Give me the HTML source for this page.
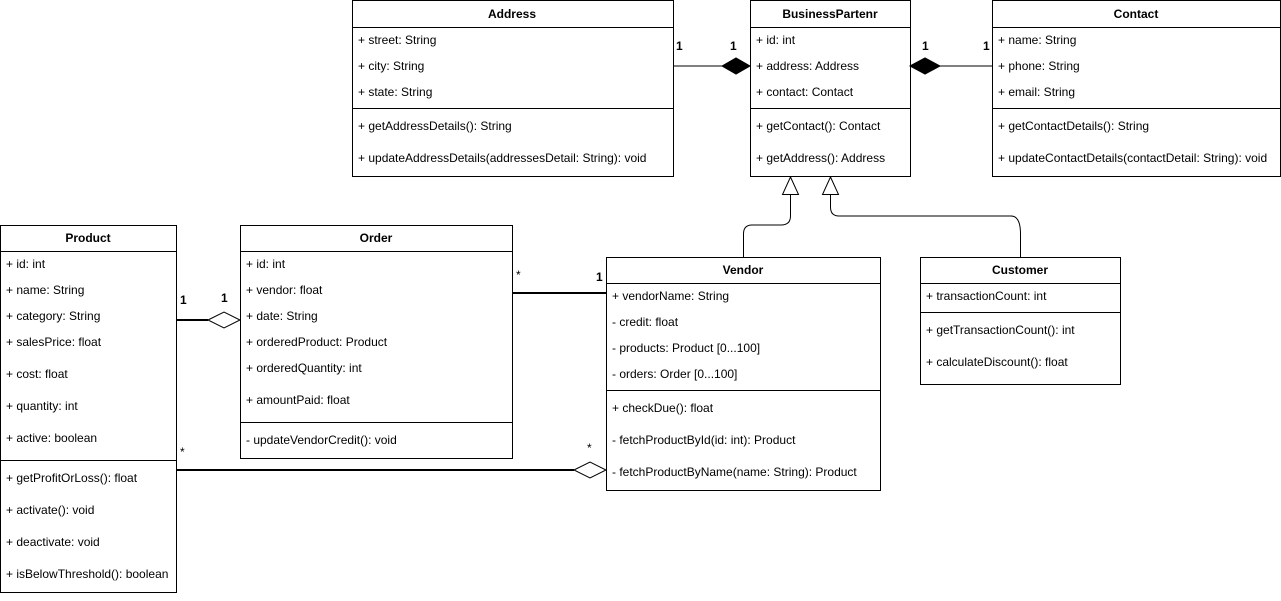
<!DOCTYPE html>
<html><head><meta charset="utf-8"><style>
body{margin:0;background:#fff}
svg text{font-family:"Liberation Sans",Arial,sans-serif;font-size:12px;fill:#000}
.h{font-weight:bold;text-anchor:middle}
.b{font-weight:bold}
</style></head><body>
<svg width="1281" height="596" xmlns="http://www.w3.org/2000/svg">
<g fill="#fff" stroke="#000" stroke-width="1">
<rect x="352.5" y="0.5" width="321" height="176"/>
<line x1="352" y1="27.5" x2="673" y2="27.5"/><line x1="352" y1="108.5" x2="673" y2="108.5"/>
<rect x="750.5" y="0.5" width="160" height="176"/>
<line x1="750" y1="27.5" x2="910" y2="27.5"/><line x1="750" y1="108.5" x2="910" y2="108.5"/>
<rect x="992.5" y="0.5" width="288" height="176"/>
<line x1="992" y1="27.5" x2="1280" y2="27.5"/><line x1="992" y1="108.5" x2="1280" y2="108.5"/>
<rect x="0.5" y="225.5" width="176" height="367"/>
<line x1="0" y1="251.5" x2="177" y2="251.5"/><line x1="0" y1="460.5" x2="177" y2="460.5"/>
<rect x="240.5" y="225.5" width="272" height="233"/>
<line x1="240" y1="251.5" x2="512" y2="251.5"/><line x1="240" y1="422.5" x2="512" y2="422.5"/>
<rect x="606.5" y="257.5" width="274" height="233"/>
<line x1="606" y1="283.5" x2="880" y2="283.5"/><line x1="606" y1="390.5" x2="880" y2="390.5"/>
<rect x="920.5" y="257.5" width="200" height="127"/>
<line x1="920" y1="283.5" x2="1120" y2="283.5"/><line x1="920" y1="312.5" x2="1120" y2="312.5"/>
</g>
<g stroke="#000" fill="none">
<line x1="673" y1="66" x2="722" y2="66"/>
<line x1="940" y1="66" x2="992" y2="66"/>
<path d="M743.5 257V234Q743.5 225 752 225H781Q790.5 225 790.5 216V195"/>
<path d="M1020.5 257V234Q1020.5 216 1011 216H839Q830.5 216 830.5 207V195"/>
<line x1="177" y1="320" x2="208" y2="320" stroke-width="2"/>
<line x1="512" y1="293" x2="606" y2="293" stroke-width="2"/>
<line x1="177" y1="470" x2="574" y2="470" stroke-width="2"/>
</g>
<path d="M722 66L736 58L750 66L736 74Z" fill="#000" stroke="#000"/>
<path d="M910 66L925 58L940 66L925 74Z" fill="#000" stroke="#000"/>
<path d="M790.5 177L798.5 194.5H782.5Z" fill="#fff" stroke="#000"/>
<path d="M830.5 177L838.5 194.5H822.5Z" fill="#fff" stroke="#000"/>
<path d="M208 320L224 312L240 320L224 328Z" fill="#fff" stroke="#000"/>
<path d="M574 470L590 462L606 470L590 478Z" fill="#fff" stroke="#000"/>
<text class="b" x="676" y="50">1</text><text class="b" x="730" y="50">1</text>
<text class="b" x="922" y="50">1</text><text class="b" x="983" y="50">1</text>
<text class="b" x="180" y="304">1</text><text class="b" x="221" y="302">1</text>
<text x="516" y="279">*</text><text class="b" x="596" y="281">1</text>
<text x="180" y="456">*</text><text x="587" y="452">*</text>
<text class="h" x="512" y="18">Address</text>
<text x="358" y="44">+ street: String</text><text x="358" y="70">+ city: String</text><text x="358" y="96">+ state: String</text>
<text x="358" y="130">+ getAddressDetails(): String</text><text x="358" y="162">+ updateAddressDetails(addressesDetail: String): void</text>
<text class="h" x="830" y="18">BusinessPartenr</text>
<text x="756" y="44">+ id: int</text><text x="756" y="70">+ address: Address</text><text x="756" y="96">+ contact: Contact</text>
<text x="756" y="130">+ getContact(): Contact</text><text x="756" y="162">+ getAddress(): Address</text>
<text class="h" x="1136" y="18">Contact</text>
<text x="998" y="44">+ name: String</text><text x="998" y="70">+ phone: String</text><text x="998" y="96">+ email: String</text>
<text x="998" y="130">+ getContactDetails(): String</text><text x="998" y="162">+ updateContactDetails(contactDetail: String): void</text>
<text class="h" x="88" y="242">Product</text>
<text x="6" y="268">+ id: int</text><text x="6" y="294">+ name: String</text><text x="6" y="320">+ category: String</text><text x="6" y="346">+ salesPrice: float</text><text x="6" y="378">+ cost: float</text><text x="6" y="410">+ quantity: int</text><text x="6" y="442">+ active: boolean</text>
<text x="6" y="482">+ getProfitOrLoss(): float</text><text x="6" y="514">+ activate(): void</text><text x="6" y="546">+ deactivate: void</text><text x="6" y="578">+ isBelowThreshold(): boolean</text>
<text class="h" x="376" y="242">Order</text>
<text x="246" y="268">+ id: int</text><text x="246" y="294">+ vendor: float</text><text x="246" y="320">+ date: String</text><text x="246" y="346">+ orderedProduct: Product</text><text x="246" y="372">+ orderedQuantity: int</text><text x="246" y="404">+ amountPaid: float</text>
<text x="246" y="444">- updateVendorCredit(): void</text>
<text class="h" x="743" y="274">Vendor</text>
<text x="612" y="300">+ vendorName: String</text><text x="612" y="326">- credit: float</text><text x="612" y="352">- products: Product [0...100]</text><text x="612" y="378">- orders: Order [0...100]</text>
<text x="612" y="412">+ checkDue(): float</text><text x="612" y="444">- fetchProductById(id: int): Product</text><text x="612" y="476">- fetchProductByName(name: String): Product</text>
<text class="h" x="1020" y="274">Customer</text>
<text x="926" y="300">+ transactionCount: int</text>
<text x="926" y="334">+ getTransactionCount(): int</text><text x="926" y="366">+ calculateDiscount(): float</text>
</svg>
</body></html>
